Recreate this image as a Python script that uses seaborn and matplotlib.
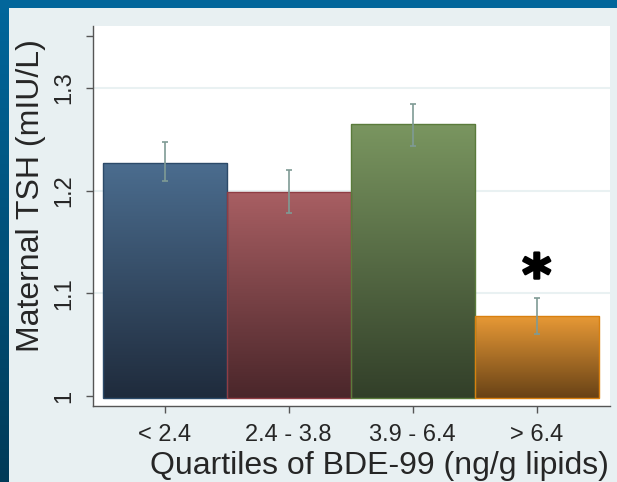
import numpy as np
import pandas as pd
import seaborn as sns
import matplotlib
matplotlib.use('Agg')
import matplotlib.pyplot as plt
import matplotlib.patheffects as pe
from matplotlib.colors import LinearSegmentedColormap
from matplotlib.patches import Rectangle

# values
quartiles = ['< 2.4', '2.4 - 3.8', '3.9 - 6.4', '> 6.4']
tsh_mean = [1.227, 1.199, 1.265, 1.078]
ci_low = [1.209, 1.178, 1.243, 1.060]
ci_high = [1.247, 1.220, 1.284, 1.095]
grid_vals = [1.1, 1.2, 1.3]
ytick_vals = [1.0, 1.1, 1.2, 1.3, 1.35]
ytick_labels = ['1', '1.1', '1.2', '1.3', '']

top_colors = ['#4b6d8f', '#a95f63', '#7a9660', '#e99a36']
bottom_colors = ['#1f2b3c', '#4a262a', '#323f29', '#684216']
edge_colors = ['#2c4a69', '#8f3d44', '#5a7b3b', '#d9800f']

sns.set_style('ticks')
plt.rcParams['font.family'] = ['Liberation Sans', 'DejaVu Sans']

df = pd.DataFrame({'quartile': quartiles, 'tsh': tsh_mean})

fig = plt.figure(figsize=(6.17, 4.82), dpi=100)
fig.patch.set_facecolor('#02669b')

# light inner panel + darker gradient on the left strip
fig.patches.append(Rectangle((9 / 617, 0), 1, 1 - 8 / 482, transform=fig.transFigure,
                             facecolor='#e8f0f2', edgecolor='none', zorder=-5))
strip = fig.add_axes([0, 0, 9 / 617, 1 - 8 / 482])
strip_cmap = LinearSegmentedColormap.from_list('strip', ['#013b58', '#01669b'])
strip.imshow(np.linspace(0, 1, 100)[::-1].reshape(-1, 1), aspect='auto', cmap=strip_cmap)
strip.axis('off')

ax = fig.add_axes([93 / 617, 1 - 406 / 482, 517 / 617, 380 / 482])
ax.set_facecolor('white')

sns.barplot(data=df, x='quartile', y='tsh', hue='quartile', palette=top_colors,
            width=1.0, errorbar=None, legend=False, ax=ax, zorder=2)

base = 0.998
for i, p in enumerate(ax.patches):
    top = p.get_y() + p.get_height()
    p.set_y(base)
    p.set_height(top - base)
    p.set_facecolor('none')
    p.set_edgecolor(edge_colors[i])
    p.set_linewidth(1.0)
    p.set_zorder(3)
    cmap = LinearSegmentedColormap.from_list('g%d' % i, [bottom_colors[i], top_colors[i]])
    x0 = p.get_x()
    img = ax.imshow(np.linspace(0, 1, 256).reshape(-1, 1), cmap=cmap, aspect='auto',
                    origin='lower', extent=[x0, x0 + p.get_width(), base, top], zorder=2)
    img.set_clip_path(p)

means = np.array(tsh_mean)
ax.errorbar(x=np.arange(len(quartiles)), y=means,
            yerr=[means - np.array(ci_low), np.array(ci_high) - means],
            fmt='none', ecolor='#7f9b95', elinewidth=1.2, capsize=2.5, capthick=1.2, zorder=4)

for g in grid_vals:
    ax.axhline(g, color='#e9f1f2', linewidth=1.5, zorder=1)

ax.text(3, 1.114, '*', ha='center', va='center', fontsize=40, fontweight='bold',
        family='DejaVu Sans', color='black', zorder=5,
        path_effects=[pe.withStroke(linewidth=1.8, foreground='black')])

ax.set_xlim(-0.577, 3.59)
ax.set_ylim(0.9904, 1.36)
ax.set_yticks(ytick_vals, ytick_labels)
ax.tick_params(axis='y', labelrotation=90, labelsize=17, length=5, width=1,
               color='#555555', pad=8)
ax.tick_params(axis='x', labelsize=17, length=5, width=1, color='#555555', pad=8)
for lab in ax.get_yticklabels():
    lab.set_va('center')

sns.despine(ax=ax)
for s in ['left', 'bottom']:
    ax.spines[s].set_color('#555555')
    ax.spines[s].set_linewidth(1.0)

ax.set_xlabel('Quartiles of BDE-99 (ng/g lipids)', fontsize=23)
ax.set_ylabel('Maternal TSH (mIU/L)', fontsize=23)
ax.xaxis.set_label_coords(0.555, -0.157)
ax.xaxis.label.set_va('center')
ax.yaxis.set_label_coords(-0.12, 0.555)
ax.yaxis.label.set_va('center')

fig.savefig('out.png', dpi=100, facecolor=fig.get_facecolor())
